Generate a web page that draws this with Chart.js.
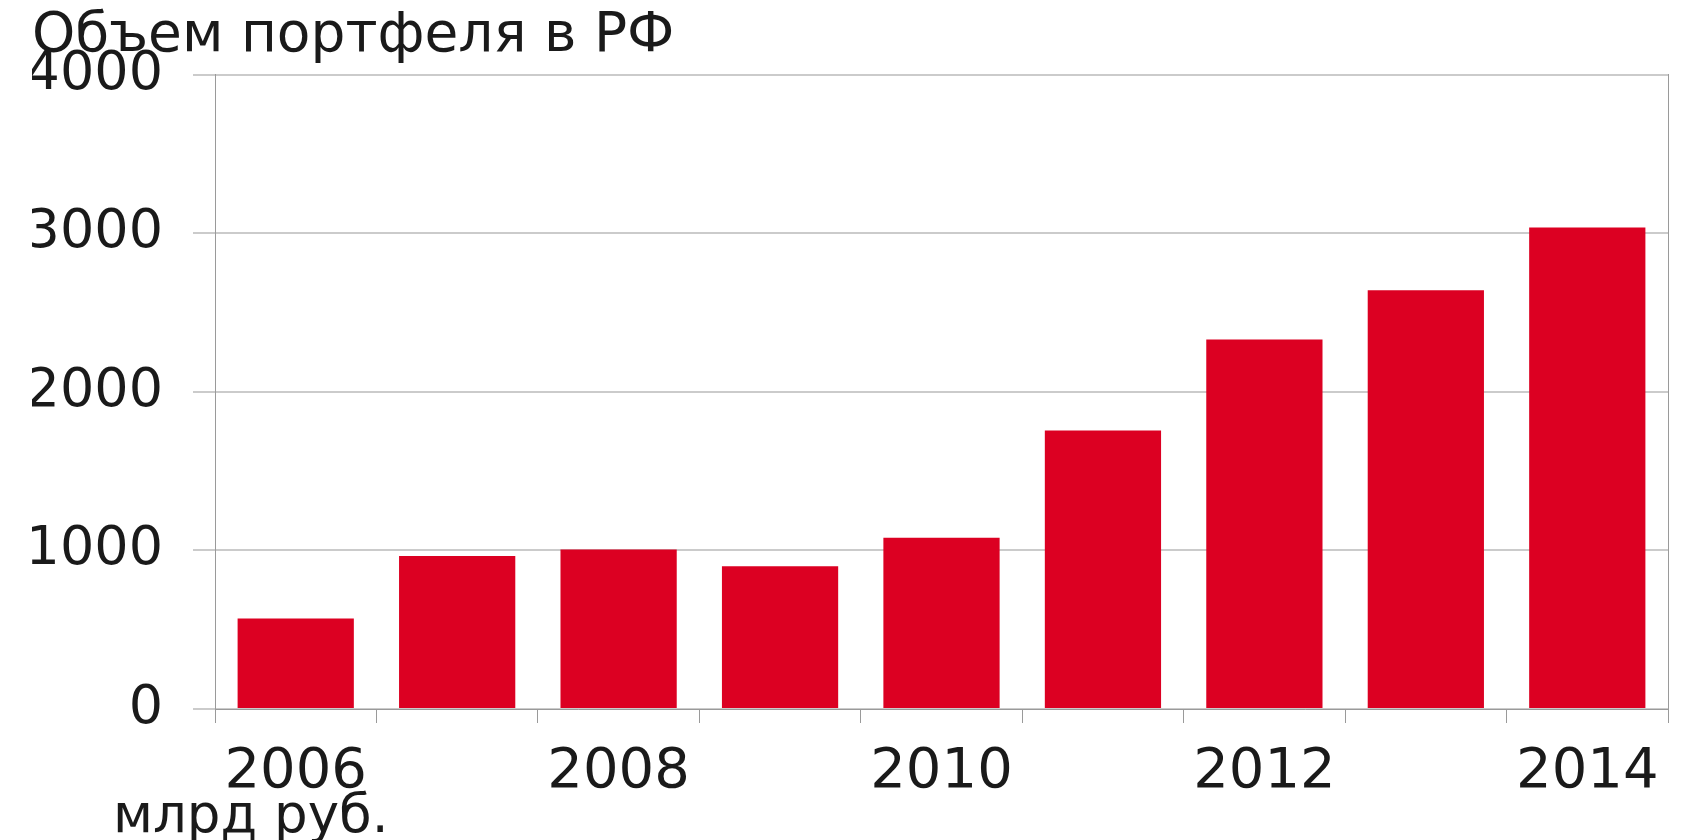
<!DOCTYPE html>
<html lang="ru">
<head>
<meta charset="utf-8">
<script src="https://cdn.jsdelivr.net/npm/chart.js@4.4.1/dist/chart.umd.min.js"></script>
<style>
  html, body { margin: 0; padding: 0; background: #fff; }
  #wrap { width: 1690px; height: 840px; }
</style>
</head>
<body>
<div id="wrap"><canvas id="grafiek-portfel" width="1690" height="840"></canvas></div>
<script>
const jaren = ['2006', '2007', '2008', '2009', '2010', '2011', '2012', '2013', '2014'];
const portfel = [570, 965, 1005, 900, 1080, 1755, 2330, 2640, 3035];
const yMin = 0;
const yMax = 4000;
const yStap = 1000;
const titel = 'Объем портфеля в РФ';
const eenheid = 'млрд руб.';

const rood = '#dc0022';
const tekstKleur = '#1a1a1a';
const rasterKleur = '#cbcbcb';
const asKleur = '#9a9a9a';
const lettertype = '"DejaVu Sans", sans-serif';

// "млрд руб." staat los onder de as, links van het grafiekvlak
const eenheidPlugin = {
  id: 'eenheid',
  afterDraw(chart) {
    const { ctx } = chart;
    ctx.save();
    ctx.font = `53px ${lettertype}`;
    ctx.fillStyle = tekstKleur;
    ctx.textAlign = 'left';
    ctx.textBaseline = 'alphabetic';
    ctx.fillText(eenheid, 113, 832);
    ctx.restore();
  },
};

function tekenPortfel() {
  const canvas = document.getElementById('grafiek-portfel');
  if (!canvas) return;

  new Chart(canvas, {
    type: 'bar',
    data: {
      labels: jaren,
      datasets: [{
        label: titel,
        data: portfel,
        backgroundColor: rood,
        borderWidth: 0,
        barPercentage: 0.72,
        categoryPercentage: 1,
      }],
    },
    options: {
      responsive: false,
      animation: false,
      devicePixelRatio: 1,
      layout: { padding: { left: 32, right: 0, top: 0, bottom: 0 } },
      plugins: {
        legend: { display: false },
        tooltip: { enabled: false },
        title: {
          display: true,
          text: titel,
          align: 'start',
          color: tekstKleur,
          font: { family: lettertype, size: 55, weight: 'normal', lineHeight: 1.1 },
          padding: { top: 6, bottom: 8 },
        },
      },
      scales: {
        x: {
          offset: true,
          grid: {
            offset: true,
            drawOnChartArea: false,
            drawTicks: true,
            tickLength: 14,
            color: asKleur,
          },
          border: { color: asKleur, width: 1 },
          ticks: {
            autoSkip: false,
            maxRotation: 0,
            color: tekstKleur,
            padding: 16,
            font: { family: lettertype, size: 56 },
            callback: (waarde, index) => (index % 2 === 0 ? jaren[index] : ''),
          },
          afterFit: schaal => { schaal.height = 131; },
        },
        y: {
          min: yMin,
          max: yMax,
          grid: { color: rasterKleur, lineWidth: 2, tickLength: 22 },
          border: { color: asKleur, width: 1 },
          ticks: {
            stepSize: yStap,
            color: tekstKleur,
            padding: 30,
            font: { family: lettertype, size: 54 },
            callback: waarde => String(waarde),
          },
          afterFit: schaal => { schaal.width = 183; },
        },
        rechts: {
          position: 'right',
          min: yMin,
          max: yMax,
          grid: { drawOnChartArea: false, drawTicks: false },
          border: { color: asKleur, width: 1 },
          ticks: { display: false },
          afterFit: schaal => { schaal.width = 22; },
        },
      },
    },
    plugins: [eenheidPlugin],
  });
}

document.addEventListener('DOMContentLoaded', tekenPortfel);
</script>
</body>
</html>
